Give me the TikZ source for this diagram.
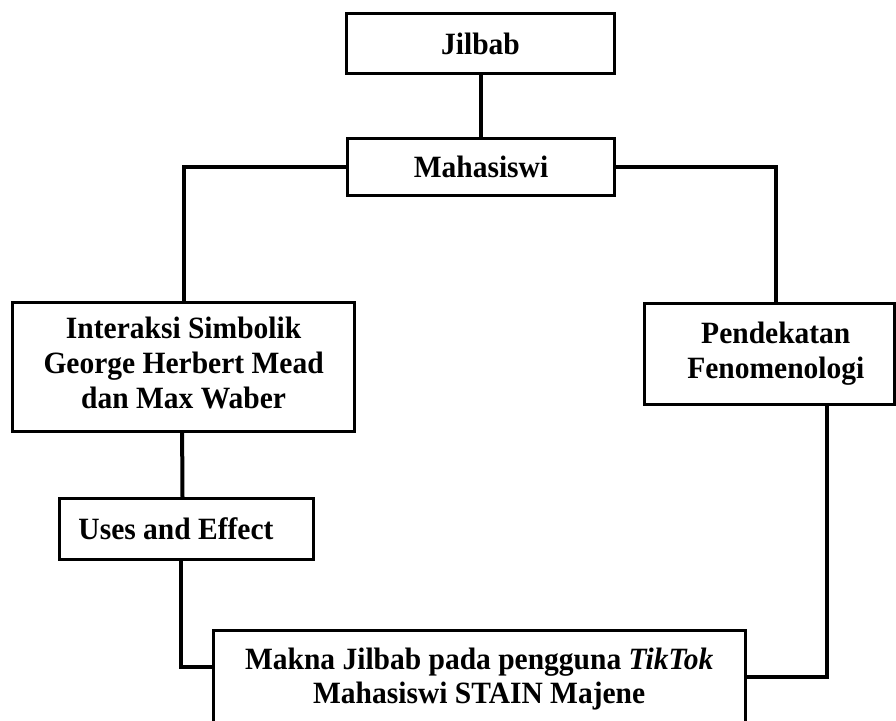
\documentclass[tikz,border=0pt]{standalone}
\usepackage{fontspec}
\setmainfont{Liberation Serif}
\usepackage{graphicx}
\newcommand\vstretch[1]{\scalebox{1}[1.05]{#1}}
\newcommand\lines[1]{\vstretch{\begin{tabular}{@{}c@{}}#1\end{tabular}}}
\tikzset{
  box/.style={draw, line width=3pt, rectangle, inner sep=0pt, align=center,
    font=\fontsize{29.5}{#1}\selectfont\bfseries},
  box/.default=33.3,
  conn/.style={line width=4pt, line cap=rect}
}
\begin{document}
\begin{tikzpicture}[x=1pt,y=-1pt]
\useasboundingbox (0,0) rectangle (896,720);
\clip (0,0) rectangle (896,720);
\fill[white] (0,0) rectangle (896,720);

\node[box, minimum width=268pt, minimum height=60pt] (jilbab) at (480.5,43.5) {\vstretch{Jilbab}};
\node[box, minimum width=267pt, minimum height=57.5pt] (mahasiswi) at (481,166.8) {\vstretch{Mahasiswi}};
\node[box, minimum width=342pt, minimum height=129pt] (interaksi) at (183.6,366.7)
  {\lines{Interaksi Simbolik\\George Herbert Mead\\dan Max Waber}};
\node[box, minimum width=254pt, minimum height=60.5pt] (uses) at (186,528.8)
  {\hspace*{-20pt}\vstretch{Uses and Effect}};
\node[box, minimum width=250pt, minimum height=101.4pt] (pendekatan) at (769.8,354)
  {\hspace*{12pt}\lines{Pendekatan\\Fenomenologi}};
\node[box, minimum width=531.7pt, minimum height=99pt] (makna) at (479.2,679.5)
  {\lines{Makna Jilbab pada pengguna \textit{TikTok}\\Mahasiswi STAIN Majene}};

\draw[conn] (jilbab.south) -- (jilbab.south |- mahasiswi.north);
\draw[conn] (mahasiswi.west) -| (interaksi.north);
\draw[conn] (mahasiswi.east) -| ([xshift=6.2pt]pendekatan.north);
\draw[conn] ([xshift=-1.5pt]interaksi.south) -- ([xshift=-3.5pt]uses.north);
\draw[conn] ([xshift=-5.5pt]uses.south) |- ([yshift=12.5pt]makna.west);
\draw[conn] ([xshift=57pt]pendekatan.south) |- ([yshift=2.5pt]makna.east);
\end{tikzpicture}
\end{document}
